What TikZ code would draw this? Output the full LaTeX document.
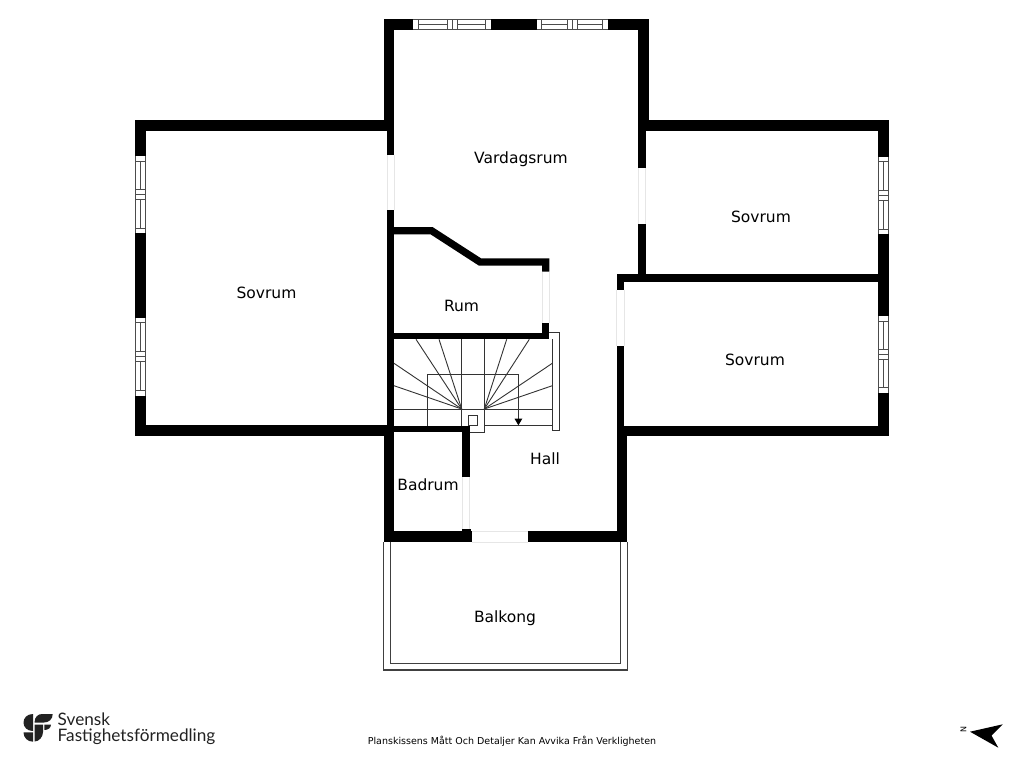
\documentclass[tikz,border=0pt]{standalone}
\usepackage{fontspec}
\setmainfont{DejaVu Sans}
\newfontfamily\logofont{Lato}
\usetikzlibrary{calc}
\definecolor{wallcol}{HTML}{000000}
\definecolor{doorcol}{HTML}{E6E6E6}
\definecolor{logocol}{HTML}{222222}
\tikzset{
  wall/.style={fill=wallcol,draw=none},
  gap/.style={fill=white,draw=none},
  doorline/.style={draw=doorcol,line width=.7},
  winline/.style={draw=black!70,line width=.8},
  stairline/.style={draw=black!80,line width=.9},
  balconyline/.style={draw=black!75,line width=1.1},
  roomlabel/.style={font=\fontsize{15.5}{18}\selectfont,inner sep=0},
  logomark/.style={fill=logocol,draw=none},
  logotext/.style={font=\logofont\fontsize{17.2}{20}\selectfont,text=logocol,inner sep=0,anchor=base west}
}
\begin{document}
\begin{tikzpicture}[x=1pt,y=-1pt]
\useasboundingbox (0,0) rectangle (1024,768);
\fill[white] (0,0) rectangle (1024,768);
\fill[wall] (383.5,19) rectangle (649,30);
\fill[wall] (383.5,19) rectangle (394,131);
\fill[wall] (638.3,19) rectangle (649,131);
\fill[wall] (135,119.5) rectangle (394,131);
\fill[wall] (135,119.5) rectangle (146,436);
\fill[wall] (135,425.3) rectangle (394,436);
\fill[wall] (387,119.5) rectangle (394,436);
\fill[wall] (638.3,119.5) rectangle (889,130.5);
\fill[wall] (878,119.5) rectangle (889,436);
\fill[wall] (638.3,119.5) rectangle (645.7,274.5);
\fill[wall] (616.7,274.3) rectangle (889,281.7);
\fill[wall] (616.7,274.3) rectangle (624.3,436);
\fill[wall] (616.7,425.5) rectangle (889,436);
\fill[wall] (616.7,425.5) rectangle (626.7,542);
\fill[wall] (383.5,431) rectangle (394,542);
\fill[wall] (383.5,531) rectangle (472.3,542);
\fill[wall] (528,531) rectangle (626.7,542);
\fill[wall] (394,425.7) rectangle (469.7,432.3);
\fill[wall] (462.3,425.7) rectangle (469.7,477.3);
\fill[wall] (462.3,528.5) rectangle (470.5,532);
\fill[wall] (394,227) -- (432.5,227) -- (481,258.3) -- (549.3,258.3) -- (549.3,271.7) -- (542,271.7)
  -- (542,265.7) -- (479,265.7) -- (430.5,234.3) -- (394,234.3) -- cycle;
\fill[wall] (394,332.7) rectangle (549.3,339.3);
\fill[wall] (542,322.7) rectangle (549.3,333);
\foreach \ya/\yb/\xa/\xb in {155/210/387/394,168/224/638.3/645.7,290/346/616.7/624.3,477.3/528.5/462.3/469.7,271.7/322.7/542/549.3} {
  \fill[gap] (\xa,\ya) rectangle (\xb,\yb);
  \draw[doorline] (\xa,\ya)--(\xa,\yb);
  \draw[doorline] (\xb,\ya)--(\xb,\yb);
}
\fill[gap] (472.3,531) rectangle (528,542);
\draw[doorline] (472.3,531)--(528,531);
\draw[doorline] (472.3,542)--(528,542);
\foreach \a/\l [evaluate=\a as \c using \a+\l/2] in {413.3/77.4,536.7/71} {
  \fill[gap] (\a,19) rectangle ({\a+\l},30);
  \draw[winline] (\a,19.5)--({\a+\l},19.5);
  \draw[winline] (\a,29.5)--({\a+\l},29.5);
  \draw[winline] ({\a+5},19.5)--({\a+5},29.5);
  \draw[winline] ({\a+\l-5},19.5)--({\a+\l-5},29.5);
  \draw[winline] ({\c-5},19.5)--({\c-5},29.5);
  \draw[winline] (\c,19.5)--(\c,29.5);
  \draw[winline] ({\c+5},19.5)--({\c+5},29.5);
  \draw[winline] ({\a+5},24.5)--({\c-5},24.5);
  \draw[winline] ({\c+5},24.5)--({\a+\l-5},24.5);
}
\foreach \a/\l/\xa [evaluate=\a as \c using \a+\l/2] in {156/77.3/135,317.7/78/135,156.7/77.3/878,316/76.7/878} {
  \fill[gap] (\xa,\a) rectangle ({\xa+11},{\a+\l});
  \draw[winline] ({\xa+.5},\a)--({\xa+.5},{\a+\l});
  \draw[winline] ({\xa+10.5},\a)--({\xa+10.5},{\a+\l});
  \draw[winline] ({\xa+.5},{\a+5})--({\xa+10.5},{\a+5});
  \draw[winline] ({\xa+.5},{\a+\l-5})--({\xa+10.5},{\a+\l-5});
  \draw[winline] ({\xa+.5},{\c-5})--({\xa+10.5},{\c-5});
  \draw[winline] ({\xa+.5},\c)--({\xa+10.5},\c);
  \draw[winline] ({\xa+.5},{\c+5})--({\xa+10.5},{\c+5});
  \draw[winline] ({\xa+5.5},{\a+5})--({\xa+5.5},{\c-5});
  \draw[winline] ({\xa+5.5},{\c+5})--({\xa+5.5},{\a+\l-5});
}
\draw[stairline] (549.3,332.3)--(559.3,332.3)--(559.3,430)--(552.3,430)--(552.3,339.3);
\draw[stairline] (394,409)--(552.3,409);
\draw[stairline] (484.3,425.7)--(552.3,425.7);
\draw[stairline] (427.7,425.7)--(427.7,374.3)--(518.3,374.3)--(518.3,419);
\fill[black] (514.5,418.7)--(522.3,418.7)--(518.4,425.3)--cycle;
\draw[stairline] (461.7,339.3)--(461.7,426);
\draw[stairline] (484.3,339.3)--(484.3,432.7)--(469.7,432.7);
\draw[stairline] (468.3,415.3) rectangle (477.7,425.5);
\foreach \ex/\ey in {394/363.3,394/385.7,416/339.3,439/339.3} {
  \draw[stairline] (461.7,409)--(\ex,\ey);
}
\foreach \ex/\ey in {552.3/363.3,552.3/385.7,529.3/339.3,506.7/339.3} {
  \draw[stairline] (484.3,409)--(\ex,\ey);
}
\draw[balconyline] (383.7,542)--(383.7,670)--(627.3,670)--(627.3,542);
\draw[balconyline] (390.3,542)--(390.3,663.3)--(620.7,663.3)--(620.7,542);
\node[roomlabel] (vardagsrum) at (521,159) {Vardagsrum};
\node[roomlabel] (sovrumleft) at (266.5,292.5) {Sovrum};
\node[roomlabel] (sovrumtop) at (761,216.5) {Sovrum};
\node[roomlabel] (sovrumbottom) at (755,359.5) {Sovrum};
\node[roomlabel] (rum) at (461.5,305.5) {Rum};
\node[roomlabel] (hall) at (545,459) {Hall};
\node[roomlabel] (badrum) at (428,484.5) {Badrum};
\node[roomlabel] (balkong) at (505,618) {Balkong};
\node[font=\fontsize{9.5}{12}\selectfont,inner sep=0] (disclaimer) at (512,741.5) {Planskissens Mått Och Detaljer Kan Avvika Från Verkligheten};
\fill[black] (970,731.7)--(1002.7,724.3)--(991.5,735.5)--(998.3,747.7)--cycle;
\node[font=\fontsize{8}{8}\selectfont,rotate=90,inner sep=0] (north) at (963.5,729.5) {N};
\fill[logomark] (33,714) .. controls (27,714) and (23.5,718) .. (23.5,722.5) .. controls (23.5,727) and (27,731) .. (33,731) -- cycle;
\fill[logomark] (33,732.3) -- (33,741.7) .. controls (27.5,741.7) and (23.5,737.5) .. (23.5,732.3) -- cycle;
\fill[logomark] (34.5,722.5) .. controls (34.5,717) and (38,714) .. (42,714) -- (52.7,714) .. controls (52.7,719) and (49,722.5) .. (44,722.5) -- cycle;
\fill[logomark] (34.5,724.5) -- (43,724.5) -- (43,732) .. controls (43,737) and (39,741.5) .. (34.5,741.5) -- cycle;
\fill[logomark] (44.3,724.5) -- (51,724.5) .. controls (51,728) and (48,730) .. (44.3,730) -- cycle;
\node[logotext] (logotop) at (57.5,725.5) {Svensk};
\node[logotext] (logobottom) at (57.5,741.5) {Fastighetsförmedling};
\end{tikzpicture}
\end{document}
